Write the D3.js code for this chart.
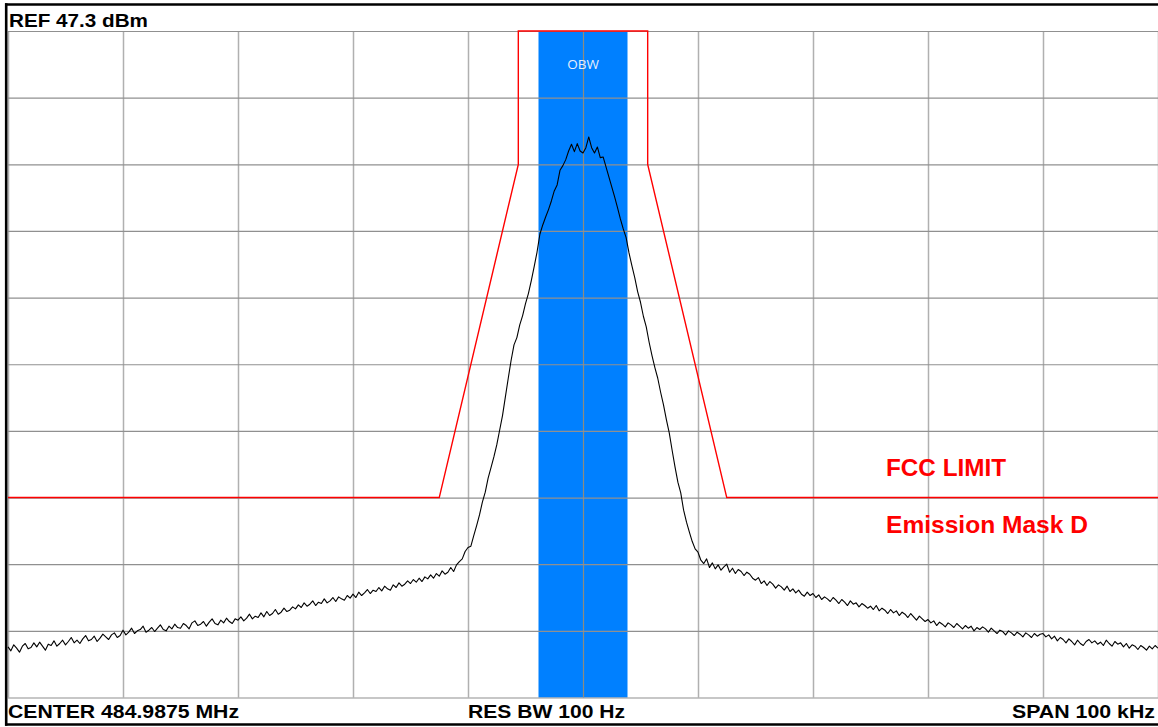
<!DOCTYPE html>
<html><head><meta charset="utf-8">
<script src="https://cdn.jsdelivr.net/npm/d3@7"></script>
<style>html,body{margin:0;padding:0;background:#fff}svg{display:block}</style>
</head><body><svg id="c" width="1158" height="727"></svg>
<script>
// ---------- data ----------
const refLabel = "REF 47.3 dBm";
const centerLabel = "CENTER 484.9875 MHz";
const rbwLabel = "RES BW 100 Hz";
const spanLabel = "SPAN 100 kHz";
const limitLabels = ["FCC LIMIT", "Emission Mask D"];
const obwLabel = "OBW";

const freqDomain = [-50, 50];          // kHz offset from centre
const levelDomain = [-52.7, 47.3];     // dBm (REF 47.3, 10 dB/div)
const freqTicks = [-50, -40, -30, -20, -10, 0, 10, 20, 30, 40, 50];
const levelTicks = [47.3, 37.3, 27.3, 17.3, 7.3, -2.7, -12.7, -22.7, -32.7, -42.7, -52.7];

const obwBand = [-3.87, 3.87];

const maskFreq  = [-50, -12.5, -5.625, -5.625, 5.625, 5.625, 12.5, 50];
const maskLevel = [-22.7, -22.7, 27.3, 47.3, 47.3, 27.3, -22.7, -22.7];

const traceStart = -50, traceStep = 0.25; // kHz
const traceLevels = [
 -45.1,-45.7,-44.8,-45.3,-45.9,-45.0,-44.6,-45.4,-45.2,-44.5,-45.1,-44.4,-45.0,-45.6,-44.7,-44.9,-44.2,-45.0,-44.6,-44.1,
 -44.8,-44.3,-43.7,-44.5,-44.1,-44.6,-43.9,-43.4,-44.2,-44.0,-43.5,-44.3,-43.8,-43.2,-43.6,-44.0,-43.3,-43.0,-43.7,-43.4,
 -42.6,-43.3,-42.9,-42.3,-43.1,-42.7,-42.5,-42.0,-42.9,-42.6,-42.2,-42.8,-42.3,-41.8,-42.5,-42.7,-42.0,-42.4,-41.7,-42.2,
 -42.3,-41.6,-41.9,-42.4,-41.5,-41.2,-41.9,-41.7,-41.3,-42.0,-41.4,-40.9,-41.6,-41.8,-41.1,-41.5,-40.8,-41.3,-41.6,-40.9,
 -41.1,-40.6,-41.2,-40.8,-40.2,-40.9,-40.5,-40.7,-40.0,-40.6,-39.8,-40.4,-40.1,-39.5,-40.2,-39.9,-39.3,-39.8,-39.6,-39.1,
 -39.4,-38.8,-39.2,-38.5,-39.0,-38.7,-38.2,-38.9,-38.4,-38.6,-37.9,-38.5,-38.2,-37.7,-38.3,-37.6,-37.9,-38.1,-37.4,-37.8,
 -37.2,-37.7,-36.9,-37.4,-37.0,-36.5,-37.1,-36.6,-36.8,-36.2,-36.7,-36.0,-36.4,-36.6,-35.8,-36.2,-35.5,-36.0,-35.7,-35.2,
 -35.6,-35.0,-35.4,-34.8,-35.3,-34.6,-34.9,-34.3,-34.8,-34.1,-34.5,-33.7,-34.2,-33.9,-33.2,-33.8,-32.8,-32.3,-31.9,-30.8,
 -30.2,-30.0,-28.4,-26.9,-25.3,-23.4,-21.9,-19.8,-18.2,-16.6,-14.8,-12.6,-10.4,-7.6,-4.8,-2.1,0.2,1.3,3.2,4.6,
 6.4,7.9,9.8,11.9,14.1,16.8,18.2,19.4,20.5,21.8,23.3,24.2,26.4,27.1,28.0,29.3,30.3,29.2,30.4,29.3,
 29.0,29.8,31.4,29.8,29.0,29.9,28.3,28.4,26.9,25.4,23.9,22.4,20.8,19.1,17.6,16.3,14.0,12.1,10.3,8.2,
 6.6,4.5,2.9,0.6,-1.4,-3.2,-4.8,-6.9,-8.8,-11.0,-13.0,-15.6,-18.1,-20.4,-22.0,-24.6,-26.4,-27.9,-29.3,-30.4,
 -30.9,-32.1,-32.6,-31.9,-33.2,-32.5,-33.4,-32.8,-33.6,-33.1,-32.7,-33.9,-33.3,-34.1,-33.5,-33.8,-34.4,-33.9,-34.2,-34.8,
 -35.1,-34.7,-35.6,-35.2,-35.9,-35.3,-35.7,-36.3,-35.8,-36.1,-36.6,-36.0,-36.8,-36.4,-37.0,-36.6,-37.2,-37.5,-36.9,-37.4,
 -37.1,-37.7,-37.3,-38.0,-37.6,-37.9,-38.3,-37.7,-38.1,-38.6,-38.0,-38.4,-38.9,-38.2,-38.7,-38.5,-39.1,-38.6,-38.9,-39.3,
 -39.0,-39.5,-38.9,-39.7,-39.3,-39.6,-40.1,-39.5,-40.0,-39.7,-40.4,-39.9,-40.2,-40.7,-40.1,-40.6,-41.1,-40.5,-40.9,-41.3,
 -41.0,-41.5,-41.2,-41.9,-41.4,-41.7,-42.1,-41.5,-41.8,-42.2,-41.6,-42.0,-42.4,-41.9,-42.3,-42.0,-42.7,-42.2,-42.5,-42.1,
 -42.4,-42.9,-42.3,-42.7,-43.1,-42.6,-42.8,-43.3,-42.7,-43.0,-43.4,-42.9,-43.2,-43.6,-43.0,-43.3,-43.7,-43.1,-43.5,-43.2,
 -43.1,-43.6,-43.3,-43.9,-43.5,-44.2,-43.7,-44.0,-44.5,-43.9,-44.3,-44.8,-44.1,-44.6,-44.9,-44.3,-44.0,-44.5,-44.2,-44.7,
 -44.4,-44.9,-44.1,-44.6,-45.0,-44.3,-44.7,-44.5,-45.1,-44.6,-45.3,-44.8,-45.0,-45.5,-44.9,-45.2,-45.6,-45.0,-45.4,-44.9,-45.3
];

// ---------- layout ----------
const W = 1158, H = 727;
const plot = {left: 8, right: 1158, top: 31, bottom: 697.5};
const FONT = "'Liberation Sans', Arial, sans-serif";

const svg = d3.select("#c");
svg.append("rect").attr("width", W).attr("height", H).attr("fill", "#fff");

const x = d3.scaleLinear().domain(freqDomain).range([plot.left, plot.right]);
const y = d3.scaleLinear().domain(levelDomain).range([plot.bottom, plot.top]);

// OBW band
svg.append("rect")
  .attr("x", x(obwBand[0])).attr("width", x(obwBand[1]) - x(obwBand[0]))
  .attr("y", y(levelDomain[1])).attr("height", y(levelDomain[0]) - y(levelDomain[1]))
  .attr("fill", "#0080ff");

// grid via axes
const gx = svg.append("g").attr("transform", `translate(0,${plot.bottom})`)
  .call(d3.axisBottom(x).tickValues(freqTicks).tickSize(-(plot.bottom - plot.top)).tickFormat(""));
const gy = svg.append("g").attr("transform", `translate(${plot.left},0)`)
  .call(d3.axisLeft(y).tickValues(levelTicks).tickSize(-(plot.right - plot.left)).tickFormat(""));
[gx, gy].forEach(g => g.select(".domain").remove());
gx.selectAll(".tick line").attr("stroke", "#b0b0b0").attr("stroke-width", 1.5);
gy.selectAll(".tick line").attr("stroke", "#909090").attr("stroke-width", 1.2);
gx.selectAll(".tick").filter(d => d === 0).select("line").attr("stroke", "#8c8c80").attr("stroke-width", 1.2);

// OBW label
svg.append("text").attr("x", x((obwBand[0] + obwBand[1]) / 2)).attr("y", 69)
  .attr("text-anchor", "middle").attr("font-family", "'Open Sans', 'DejaVu Sans', sans-serif")
  .attr("font-size", 13.5).attr("fill", "#e6eefc").text(obwLabel);

// mask
svg.append("path")
  .datum(maskFreq.map((f, i) => [f, maskLevel[i]]))
  .attr("fill", "none").attr("stroke", "#ff0000").attr("stroke-width", 1.4)
  .attr("d", d3.line().x(d => x(d[0])).y(d => y(d[1])));

// trace
svg.append("path")
  .datum(traceLevels.map((v, i) => [traceStart + i * traceStep, v]))
  .attr("fill", "none").attr("stroke", "#000").attr("stroke-width", 1.1)
  .attr("stroke-linejoin", "round")
  .attr("d", d3.line().x(d => x(d[0])).y(d => y(d[1])));

// frame
svg.append("line").attr("x1", 5).attr("x2", W).attr("y1", 4.5).attr("y2", 4.5).attr("stroke", "#000").attr("stroke-width", 2.6);
svg.append("line").attr("x1", 6.2).attr("x2", 6.2).attr("y1", 3.2).attr("y2", 725.8).attr("stroke", "#000").attr("stroke-width", 2.6);
svg.append("line").attr("x1", 5).attr("x2", W).attr("y1", 724.5).attr("y2", 724.5).attr("stroke", "#000").attr("stroke-width", 2.6);

// texts
function label(txt, xPos, yPos, len, size, fill) {
  svg.append("text").attr("x", xPos).attr("y", yPos)
    .attr("font-family", FONT).attr("font-weight", "bold").attr("font-size", size)
    .attr("fill", fill).attr("textLength", len).attr("lengthAdjust", "spacingAndGlyphs")
    .text(txt);
}
label(refLabel, 9, 26.5, 139, 18.5, "#000");
label(centerLabel, 8, 718, 231, 18.5, "#000");
label(rbwLabel, 468, 717.5, 157, 18.5, "#000");
label(spanLabel, 1012, 717.5, 143, 18.5, "#000");
label(limitLabels[0], 886, 476, 120, 24.5, "#ff0000");
label(limitLabels[1], 886, 532.5, 202, 24.5, "#ff0000");
</script></body></html>
